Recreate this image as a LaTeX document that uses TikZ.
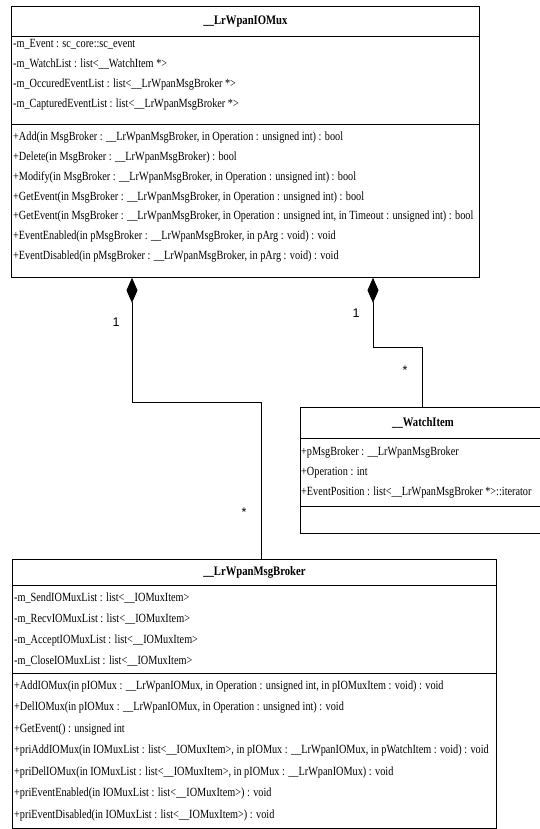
\documentclass[tikz,border=0pt]{standalone}
\usepackage{fontspec}
\setmainfont{Liberation Serif}[FakeStretch=0.82]
\newfontfamily\labelfont{Liberation Sans}
\usetikzlibrary{arrows.meta,calc}

\begin{document}
\begin{tikzpicture}[x=1pt,y=-1pt,
  classbox/.style={draw=black,line width=0.8pt,fill=white,inner sep=0pt,anchor=north west},
  classtitle/.style={font=\fontsize{13}{15}\selectfont\bfseries,inner sep=0pt},
  row/.style={font=\fontsize{12.5}{14}\selectfont,inner sep=0pt,anchor=west,text height=9pt,text depth=3pt},
  compsep/.style={line width=0.8pt},
  composition/.style={line width=0.8pt,{Diamond[length=25pt,width=11pt]}-},
  mult/.style={font=\labelfont\fontsize{12.5}{14}\selectfont,inner sep=0pt}
]
\useasboundingbox (0,0) rectangle (540,829);
\clip (0,0) rectangle (540,829);

% ---------------- class __LrWpanIOMux ----------------
\node[classbox,minimum width=468pt,minimum height=271pt] (mux) at (11,6) {};
\draw[compsep] ($(mux.north west)+(0,30)$) -- ($(mux.north east)+(0,30)$);
\draw[compsep] ($(mux.north west)+(0,118)$) -- ($(mux.north east)+(0,118)$);
\node[classtitle] (muxT) at ($(mux.north)+(0,16)$) {\_\_LrWpanIOMux};
\foreach \t [count=\i] in {
  {-m\_Event : sc\_core::sc\_event},
  {-m\_WatchList : list<\_\_WatchItem *>},
  {-m\_OccuredEventList : list<\_\_LrWpanMsgBroker *>},
  {-m\_CapturedEventList : list<\_\_LrWpanMsgBroker *>}}
  \node[row] (muxA\i) at (13,{45+20*(\i-1)}) {\t};
\foreach \t [count=\i] in {
  {+Add(in MsgBroker : \_\_LrWpanMsgBroker, in Operation : unsigned int) : bool},
  {+Delete(in MsgBroker : \_\_LrWpanMsgBroker) : bool},
  {+Modify(in MsgBroker : \_\_LrWpanMsgBroker, in Operation : unsigned int) : bool},
  {+GetEvent(in MsgBroker : \_\_LrWpanMsgBroker, in Operation : unsigned int) : bool},
  {+GetEvent(in MsgBroker : \_\_LrWpanMsgBroker, in Operation : unsigned int, in Timeout : unsigned int) : bool},
  {+EventEnabled(in pMsgBroker : \_\_LrWpanMsgBroker, in pArg : void) : void},
  {+EventDisabled(in pMsgBroker : \_\_LrWpanMsgBroker, in pArg : void) : void}}
  \node[row] (muxM\i) at (13,{138+19.7*(\i-1)}) {\t};

% ---------------- class __WatchItem ----------------
\node[classbox,minimum width=248pt,minimum height=126pt] (watch) at (300,407) {};
\draw[compsep] ($(watch.north west)+(0,31)$) -- ($(watch.north east)+(0,31)$);
\draw[compsep] ($(watch.north west)+(0,99)$) -- ($(watch.north east)+(0,99)$);
\node[classtitle,anchor=center] (watchT) at (423,423) {\_\_WatchItem};
\foreach \t [count=\i] in {
  {+pMsgBroker : \_\_LrWpanMsgBroker},
  {+Operation : int},
  {+EventPosition : list<\_\_LrWpanMsgBroker *>::iterator}}
  \node[row] (watchA\i) at (301,{452+20*(\i-1)}) {\t};

% ---------------- class __LrWpanMsgBroker ----------------
\node[classbox,minimum width=484pt,minimum height=269pt] (broker) at (12,559) {};
\draw[compsep] ($(broker.north west)+(0,26)$) -- ($(broker.north east)+(0,26)$);
\draw[compsep] ($(broker.north west)+(0,114)$) -- ($(broker.north east)+(0,114)$);
\node[classtitle] (brokerT) at ($(broker.north)+(0,13)$) {\_\_LrWpanMsgBroker};
\foreach \t [count=\i] in {
  {-m\_SendIOMuxList : list<\_\_IOMuxItem>},
  {-m\_RecvIOMuxList : list<\_\_IOMuxItem>},
  {-m\_AcceptIOMuxList : list<\_\_IOMuxItem>},
  {-m\_CloseIOMuxList : list<\_\_IOMuxItem>}}
  \node[row] (brokerA\i) at (14,{598+21*(\i-1)}) {\t};
\foreach \t [count=\i] in {
  {+AddIOMux(in pIOMux : \_\_LrWpanIOMux, in Operation : unsigned int, in pIOMuxItem : void) : void},
  {+DelIOMux(in pIOMux : \_\_LrWpanIOMux, in Operation : unsigned int) : void},
  {+GetEvent() : unsigned int},
  {+priAddIOMux(in IOMuxList : list<\_\_IOMuxItem>, in pIOMux : \_\_LrWpanIOMux, in pWatchItem : void) : void},
  {+priDelIOMux(in IOMuxList : list<\_\_IOMuxItem>, in pIOMux : \_\_LrWpanIOMux) : void},
  {+priEventEnabled(in IOMuxList : list<\_\_IOMuxItem>) : void},
  {+priEventDisabled(in IOMuxList : list<\_\_IOMuxItem>) : void}}
  \node[row] (brokerM\i) at (14,{686+21.5*(\i-1)}) {\t};

% ---------------- compositions ----------------
\draw[composition] ([xshift=121pt]mux.south west) -- ++(0,125) -| ([xshift=249pt]broker.north west);
\draw[composition] ([xshift=362pt]mux.south west) -- ++(0,70) -| ([xshift=122pt]watch.north west);

\node[mult] (mBrokerWhole) at (116,322) {1};
\node[mult] (mBrokerPart) at (244,512) {*};
\node[mult] (mWatchWhole) at (356,313) {1};
\node[mult] (mWatchPart) at (405,370) {*};
\end{tikzpicture}
\end{document}
